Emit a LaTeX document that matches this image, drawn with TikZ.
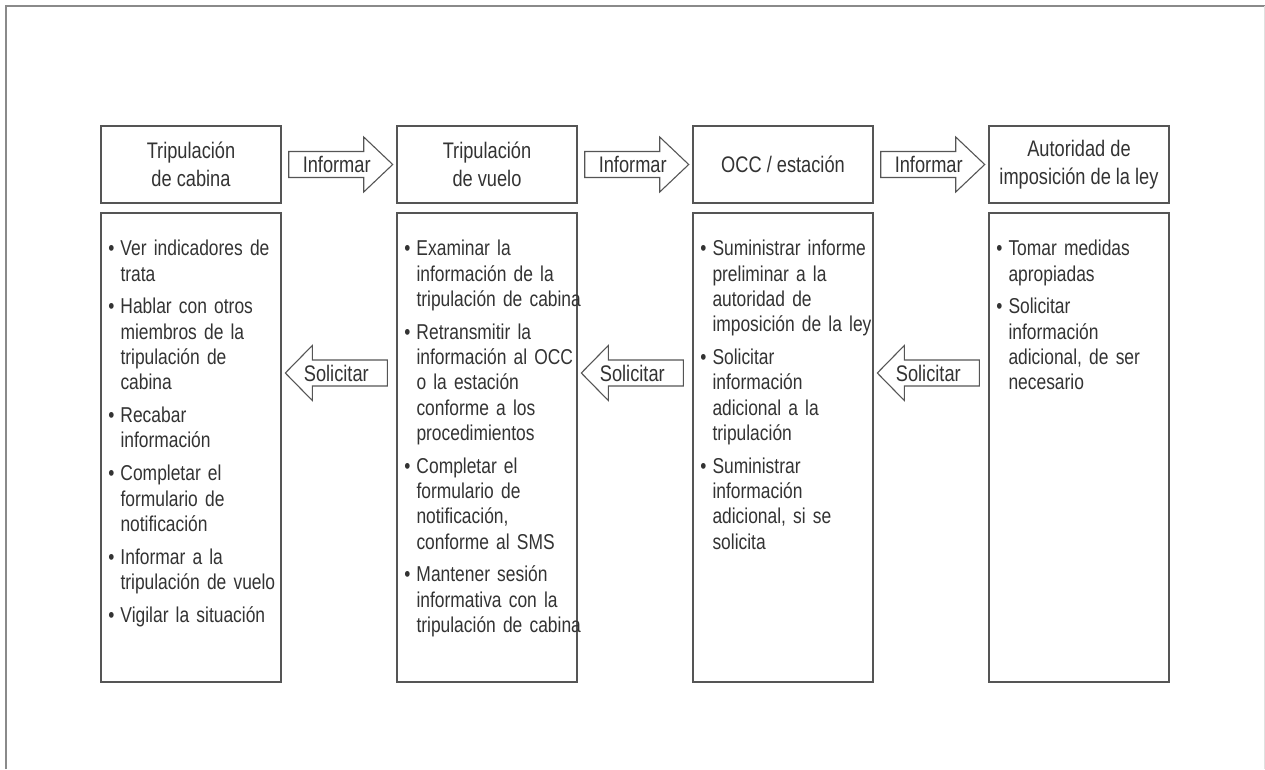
\documentclass[tikz,border=0pt]{standalone}
\usepackage{fontspec}
\setmainfont{Liberation Sans}[FakeStretch=0.81]
\usetikzlibrary{calc}
\definecolor{linec}{HTML}{555555}
\definecolor{textc}{HTML}{333333}
\definecolor{framec}{HTML}{8A8A8A}
\newcommand\firstitem{\leftskip=12pt\noindent\llap{\textbullet\hspace{6pt}}}
\newcommand\nextitem{\par\vspace{7.5pt}\noindent\llap{\textbullet\hspace{6pt}}}
\newcommand\informarrow[2]{% #1 name, #2 start node
  \draw[blockarrow] ($(#2.east)+(7,0)$) ++(0,-13) -- ++(75,0) -- ++(0,-14.5) -- ++(29,27.5) -- ++(-29,27.5) -- ++(0,-14.5) -- ++(-75,0) -- cycle;
  \node[arrowlabel] (#1) at ($(#2.east)+(55,0)$) {Informar};}
\newcommand\solicitarrow[2]{% #1 name, #2 box to the right
  \coordinate (#1tip) at ($(#2.west)+(-111,-74.5)$);
  \draw[blockarrow] (#1tip) -- ++(27,-27.5) -- ++(0,14.5) -- ++(75,0) -- ++(0,26) -- ++(-75,0) -- ++(0,14.5) -- cycle;
  \node[arrowlabel] (#1) at ($(#1tip)+(51,0)$) {Solicitar};}
\begin{document}
\begin{tikzpicture}[x=1pt,y=-1pt,
  topbox/.style={draw=linec, line width=1.4pt, minimum width=180pt, minimum height=77pt, inner sep=0pt, align=center, text=textc, font=\fontsize{22.5}{28}\selectfont},
  botbox/.style={draw=linec, line width=1.4pt, minimum width=180pt, minimum height=469pt, inner sep=0pt},
  listtext/.style={anchor=base west, inner sep=0pt, text width=200pt, align=left, text=textc, font=\fontsize{21.5}{25.3}\selectfont},
  blockarrow/.style={draw=linec, line width=1.1pt, fill=white, line join=miter},
  arrowlabel/.style={inner sep=0pt, text=textc, font=\fontsize{22.5}{25}\selectfont}]
\useasboundingbox (0,0) rectangle (1265,769);
\fill[white] (0,0) rectangle (1265,769);
\draw[framec, line width=2pt] (6,769) -- (6,6) -- (1265,6);
\draw[black!12, line width=1pt] (1264.5,6) -- (1264.5,769);

\node[topbox] (t1) at (191,164.5) {Tripulación\\de cabina};
\node[topbox] (t2) at (487,164.5) {Tripulación\\de vuelo};
\node[topbox] (t3) at (783,164.5) {OCC / estación};
\node[topbox] (t4) at (1079,164.5) {Autoridad de\\imposición de la ley};

\node[botbox] (b1) at (191,447.5) {};
\node[botbox] (b2) at (487,447.5) {};
\node[botbox] (b3) at (783,447.5) {};
\node[botbox] (b4) at (1079,447.5) {};

\node[listtext] (l1) at ($(b1.north west)+(8,43.5)$) {\firstitem Ver indicadores de\\trata
\nextitem Hablar con otros\\miembros de la\\tripulación de\\cabina
\nextitem Recabar\\información
\nextitem Completar el\\formulario de\\notificación
\nextitem Informar a la\\tripulación de vuelo
\nextitem Vigilar la situación\par};

\node[listtext] (l2) at ($(b2.north west)+(8,43.5)$) {\firstitem Examinar la\\información de la\\tripulación de cabina
\nextitem Retransmitir la\\información al OCC\\o la estación\\conforme a los\\procedimientos
\nextitem Completar el\\formulario de\\notificación,\\conforme al SMS
\nextitem Mantener sesión\\informativa con la\\tripulación de cabina\par};

\node[listtext] (l3) at ($(b3.north west)+(8,43.5)$) {\firstitem Suministrar informe\\preliminar a la\\autoridad de\\imposición de la ley
\nextitem Solicitar\\información\\adicional a la\\tripulación
\nextitem Suministrar\\información\\adicional, si se\\solicita\par};

\node[listtext] (l4) at ($(b4.north west)+(8,43.5)$) {\firstitem Tomar medidas\\apropiadas
\nextitem Solicitar\\información\\adicional, de ser\\necesario\par};

\informarrow{inf1}{t1}
\informarrow{inf2}{t2}
\informarrow{inf3}{t3}
\solicitarrow{sol1}{b2}
\solicitarrow{sol2}{b3}
\solicitarrow{sol3}{b4}
\end{tikzpicture}
\end{document}
